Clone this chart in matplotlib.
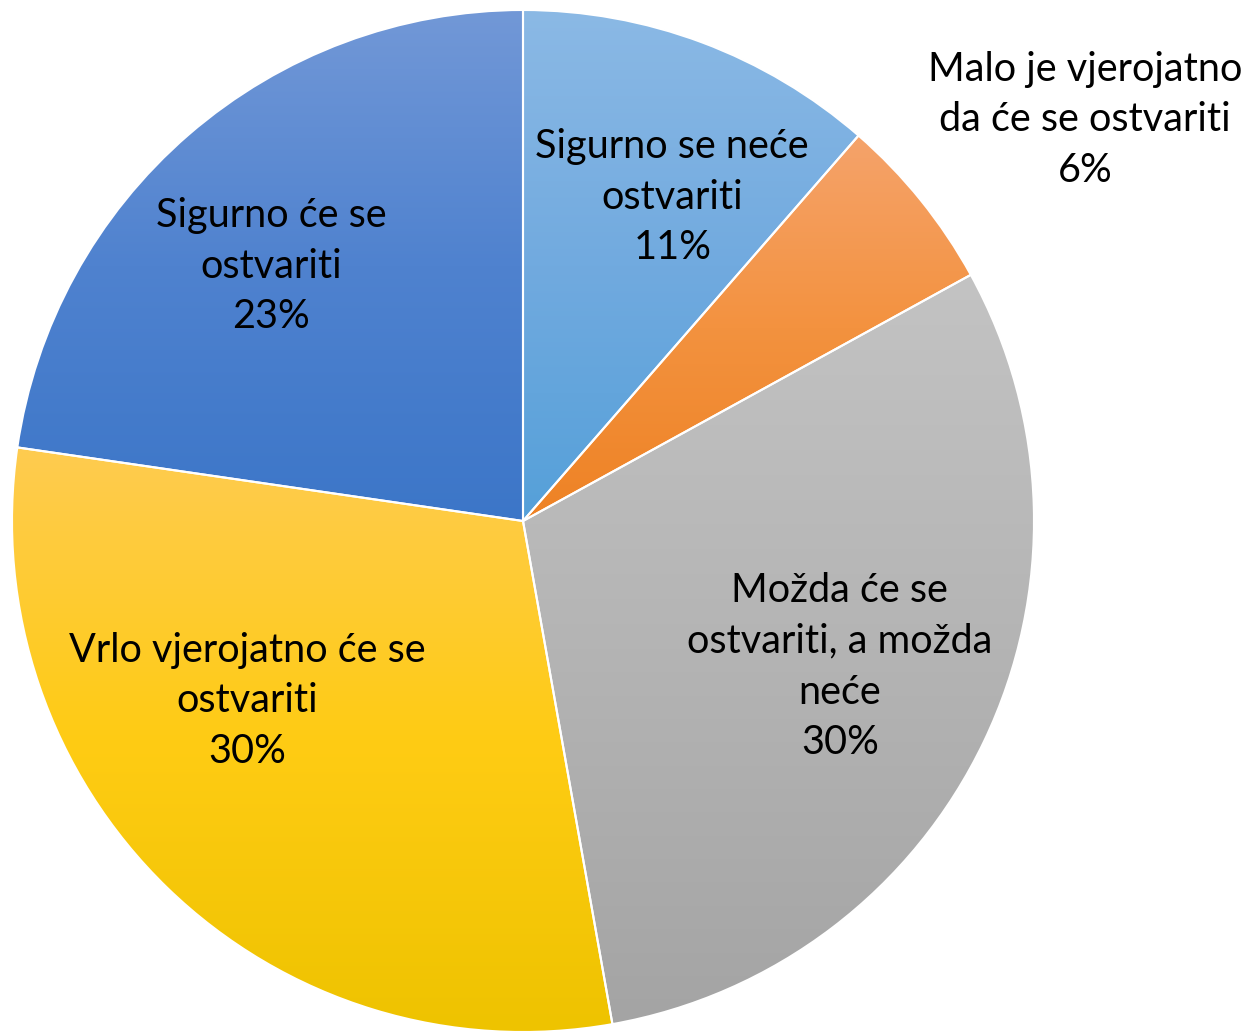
import numpy as np
import matplotlib
matplotlib.use("Agg")
import matplotlib.pyplot as plt
from matplotlib.colors import LinearSegmentedColormap

# slice shares (percent), clockwise from 12 o'clock
LABELS = [
    "Sigurno se neće\nostvariti",
    "Malo je vjerojatno\nda će se ostvariti",
    "Možda će se\nostvariti, a možda\nneće",
    "Vrlo vjerojatno će se\nostvariti",
    "Sigurno će se\nostvariti",
]
VALUES = [11.4, 5.6, 30.2, 30.1, 22.7]

# gradient stops (top -> bottom) per slice
GRADIENTS = [
    ("#8bb9e5", "#71aadf", "#55a0d9"),
    ("#f5a36b", "#f3923f", "#ee8224"),
    ("#c3c3c3", "#b4b4b4", "#a4a4a4"),
    ("#fecb50", "#ffcc14", "#eec300"),
    ("#7298d7", "#4f82cf", "#3c76c8"),
]

# label centres in radius units relative to pie centre
LABEL_POS = [(0.292, 0.634), (1.10, 0.785), (0.620, -0.285), (-0.540, -0.352), (-0.493, 0.499)]

W, H = 1249, 1031
fig = plt.figure(figsize=(W / 100, H / 100), dpi=100)
cx, cy, r = 523, 521, 511
ax = fig.add_axes([(cx - r) / W, (H - cy - r) / H, 2 * r / W, 2 * r / H])
ax.set_axis_off()

wedges, _ = ax.pie(
    VALUES,
    startangle=90,
    counterclock=False,
    radius=1.0,
    wedgeprops={"edgecolor": "white", "linewidth": 1.5, "facecolor": "none"},
)

for w, stops in zip(wedges, GRADIENTS):
    ext = w.get_path().get_extents()
    cmap = LinearSegmentedColormap.from_list("g", list(stops)[::-1])
    grad = np.linspace(0, 1, 256).reshape(-1, 1)
    im = ax.imshow(
        grad,
        cmap=cmap,
        origin="lower",
        aspect="auto",
        extent=(ext.x0, ext.x1, ext.y0, ext.y1),
        zorder=w.get_zorder() - 0.1,
        interpolation="bilinear",
    )
    im.set_clip_path(w)

ax.set_xlim(-1, 1)
ax.set_ylim(-1, 1)

for label, val, (x, y) in zip(LABELS, VALUES, LABEL_POS):
    ax.text(
        x, y, f"{label}\n{round(val)}%",
        ha="center", va="center", fontsize=28.5, family="Lato",
        color="black", linespacing=1.46, clip_on=False,
    )

fig.savefig("out.png", dpi=100)
